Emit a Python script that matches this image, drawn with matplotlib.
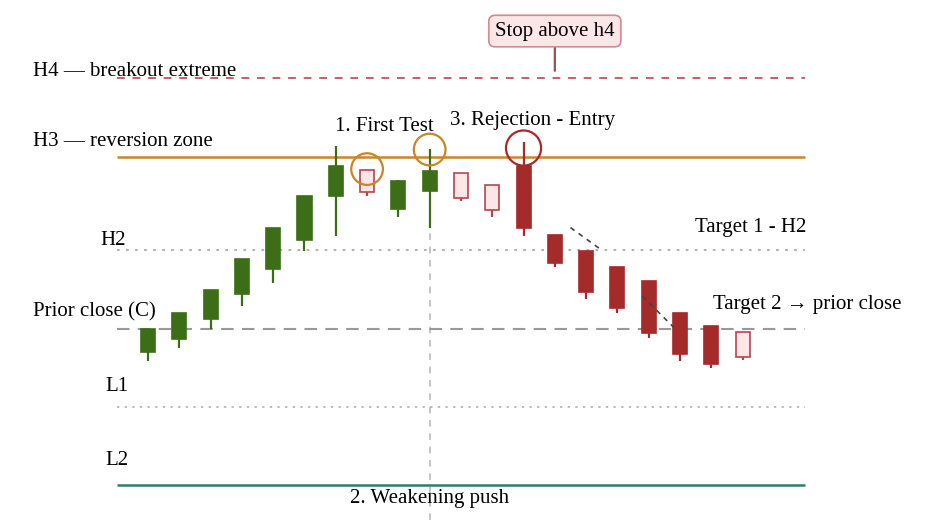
import matplotlib
matplotlib.use("Agg")
import matplotlib.pyplot as plt
from matplotlib.patches import Rectangle

plt.rcParams['font.family'] = ['Liberation Serif', 'DejaVu Serif']

# pivot levels (arbitrary price units)
levels = {"H4": 5.22, "H3": 4.21, "H2": 3.01, "C": 2.00, "L1": 1.00, "L2": 0.00}

# candles: open, high, low, close and kind
opens = [1.71, 1.87, 2.13, 2.45, 2.77, 3.14, 3.71, 4.04, 3.54, 3.77,
         4.00, 3.84, 4.09, 3.21, 3.00, 2.80, 2.61, 2.20, 2.04, 1.96]
highs = [2.00, 2.21, 2.50, 2.90, 3.30, 3.71, 4.34, 4.04, 3.91, 4.31,
         4.00, 3.84, 4.40, 3.21, 3.00, 2.80, 2.61, 2.20, 2.04, 1.96]
lows = [1.59, 1.76, 2.00, 2.29, 2.59, 3.00, 3.19, 3.70, 3.43, 3.29,
        3.64, 3.44, 3.19, 2.79, 2.39, 2.20, 1.89, 1.59, 1.50, 1.60]
closes = [2.00, 2.21, 2.50, 2.90, 3.30, 3.71, 4.09, 3.76, 3.90, 4.03,
          3.68, 3.52, 3.30, 2.84, 2.47, 2.27, 1.95, 1.68, 1.55, 1.64]
kinds = ["up"] * 7 + ["weak", "up", "up", "weak", "weak"] + ["down"] * 7 + ["weak"]

# circled candles: (index, y of circle centre, colour, size)
circles = [(7, 4.05, "#c8862a", 520), (9, 4.30, "#c8862a", 520), (12, 4.32, "#a52a2a", 640)]

GREEN = "#3c6e17"
RED = "#a52a2a"
WEAK_EDGE = "#b5454f"
WEAK_FILL = "#fde6e8"

fig = plt.figure(figsize=(9.36, 5.26), dpi=100)
ax = fig.add_axes([0, 0, 1, 1])
ax.set_xlim(-4.73, 25.18)
ax.set_ylim(-0.526, 6.218)
ax.axis("off")

x0, x1 = -1, 21
ax.hlines(levels["H4"], x0, x1, colors="#c4606b", linestyles=(0, (4, 4)), lw=1.4)
ax.hlines(levels["H3"], x0, x1, colors="#c8862a", lw=1.8)
ax.hlines(levels["H2"], x0, x1, colors="#aaaaaa", linestyles=(0, (1.5, 3.5)), lw=1.3)
ax.hlines(levels["C"], x0, x1, colors="#999999", linestyles=(0, (6, 4)), lw=1.5)
ax.hlines(levels["L1"], x0, x1, colors="#aaaaaa", linestyles=(0, (1.5, 3.5)), lw=1.1)
ax.hlines(levels["L2"], x0, x1, colors="#2e7d6b", lw=1.8)

# weakening push marker
ax.vlines(9, -0.45, 3.9, colors="#bbbbbb", linestyles=(0, (4, 4)), lw=1.2, zorder=1)

w = 0.45
for i, (o, h, l, c, k) in enumerate(zip(opens, highs, lows, closes, kinds)):
    if k == "up":
        fc, ec = GREEN, GREEN
    elif k == "down":
        fc, ec = RED, RED
    else:
        fc, ec = WEAK_FILL, WEAK_EDGE
    top, bot = max(o, c), min(o, c)
    ax.vlines(i, l, h, colors=ec, lw=1.6, zorder=2)
    ax.add_patch(Rectangle((i - w / 2, bot), w, top - bot, facecolor=fc,
                           edgecolor=ec, lw=1.2, zorder=3))

for i, y, col, s in circles:
    ax.scatter(i, y, s=s, facecolors="none", edgecolors=col, linewidths=1.6, zorder=4)

# trend dashes
ax.plot([13.5, 14.5], [3.30, 3.01], color="#444444", ls=(0, (3, 3)), lw=1.2, zorder=5)
ax.plot([15.8, 16.8], [2.42, 2.02], color="#444444", ls=(0, (3, 3)), lw=1.2, zorder=5)

fs = 15
ax.text(-3.67, 5.30, "H4 \u2014 breakout extreme", fontsize=fs, va="center")
ax.text(-3.67, 4.41, "H3 \u2014 reversion zone", fontsize=fs, va="center")
ax.text(-1.53, 3.14, "H2", fontsize=fs, va="center")
ax.text(-3.67, 2.22, "Prior close (C)", fontsize=fs, va="center")
ax.text(-1.37, 1.26, "L1", fontsize=fs, va="center")
ax.text(-1.37, 0.32, "L2", fontsize=fs, va="center")

ax.text(7.55, 4.59, "1. First Test", fontsize=fs, ha="center", va="center")
ax.text(12.3, 4.67, "3. Rejection - Entry", fontsize=fs, ha="center", va="center")
ax.text(9.0, -0.17, "2. Weakening push", fontsize=fs, ha="center", va="center")
ax.text(21.05, 3.30, "Target 1 - H2", fontsize=fs, ha="right", va="center")
ax.text(18.05, 2.31, "Target 2 \u2192 prior close", fontsize=fs, ha="left", va="center")

ax.annotate("Stop above h4", xy=(13.0, 5.31), xytext=(13.0, 5.82),
            fontsize=fs, ha="center", va="center",
            bbox=dict(boxstyle="round,pad=0.3", fc="#fde6e8", ec="#d08a90", lw=1.2),
            arrowprops=dict(arrowstyle="-", color="#a04a55", lw=1.6, shrinkA=0, shrinkB=0))

fig.savefig("out.png", dpi=100)
